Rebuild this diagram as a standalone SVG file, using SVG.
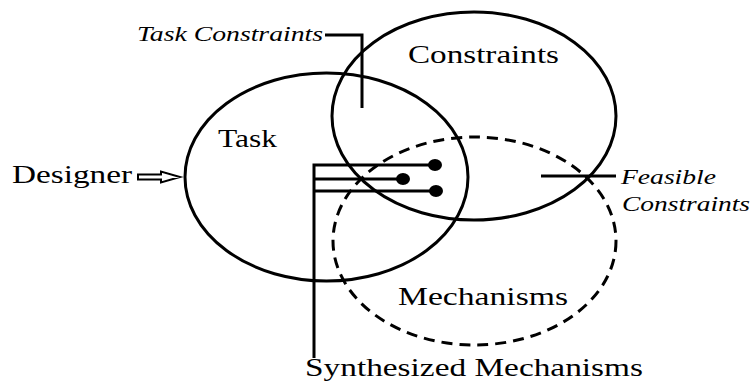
<svg xmlns="http://www.w3.org/2000/svg" width="752" height="383" viewBox="0 0 752 383">
<style>
.e{fill:none;stroke:#000;stroke-width:3}
.d{stroke-dasharray:11 7}
.l{fill:none;stroke:#000;stroke-width:3}
.t{font-family:'Liberation Serif','DejaVu Serif',serif;font-size:26px;fill:#000}
.i{font-family:'Liberation Serif','DejaVu Serif',serif;font-size:20px;font-style:italic;fill:#000}
</style>
<rect width="752" height="383" fill="#fff"/>
<g id="task"><ellipse class="e" cx="326.5" cy="177" rx="141.5" ry="104"/><text class="t" x="218" y="147" textLength="59" lengthAdjust="spacingAndGlyphs">Task</text></g>
<g id="constraints"><ellipse class="e" cx="474" cy="116" rx="142" ry="104"/><text class="t" x="408" y="63" textLength="151" lengthAdjust="spacingAndGlyphs">Constraints</text></g>
<g id="mechanisms"><ellipse class="e d" cx="474.5" cy="241" rx="141.5" ry="104"/><text class="t" x="398" y="305" textLength="170" lengthAdjust="spacingAndGlyphs">Mechanisms</text></g>
<g id="designer"><text class="t" x="12" y="183" textLength="120" lengthAdjust="spacingAndGlyphs">Designer</text></g>
<g id="task-constraints-label"><text class="i" x="137" y="41" textLength="186" lengthAdjust="spacingAndGlyphs">Task Constraints</text></g>
<g id="feasible-label"><text class="i" x="621" y="184" textLength="95" lengthAdjust="spacingAndGlyphs">Feasible</text><text class="i" x="622" y="211" textLength="128" lengthAdjust="spacingAndGlyphs">Constraints</text></g>
<g id="synth-label"><text class="t" x="305" y="376" textLength="338" lengthAdjust="spacingAndGlyphs">Synthesized Mechanisms</text></g>
<g id="connectors">
<path class="l" d="M325 35H362V108"/>
<path class="l" d="M541 176H616"/>
<path d="M138 174.5H161V171.5L180 177L161 182.5V179.5H138Z" fill="#fff" stroke="#000" stroke-width="2" stroke-linejoin="miter"/>
<path class="l" d="M314 358V165H435M314 179H403M314 191H436"/>
<ellipse cx="435" cy="165" rx="7" ry="6"/>
<ellipse cx="403" cy="179" rx="7" ry="6"/>
<ellipse cx="436" cy="191" rx="7" ry="6"/>
</g>
</svg>
